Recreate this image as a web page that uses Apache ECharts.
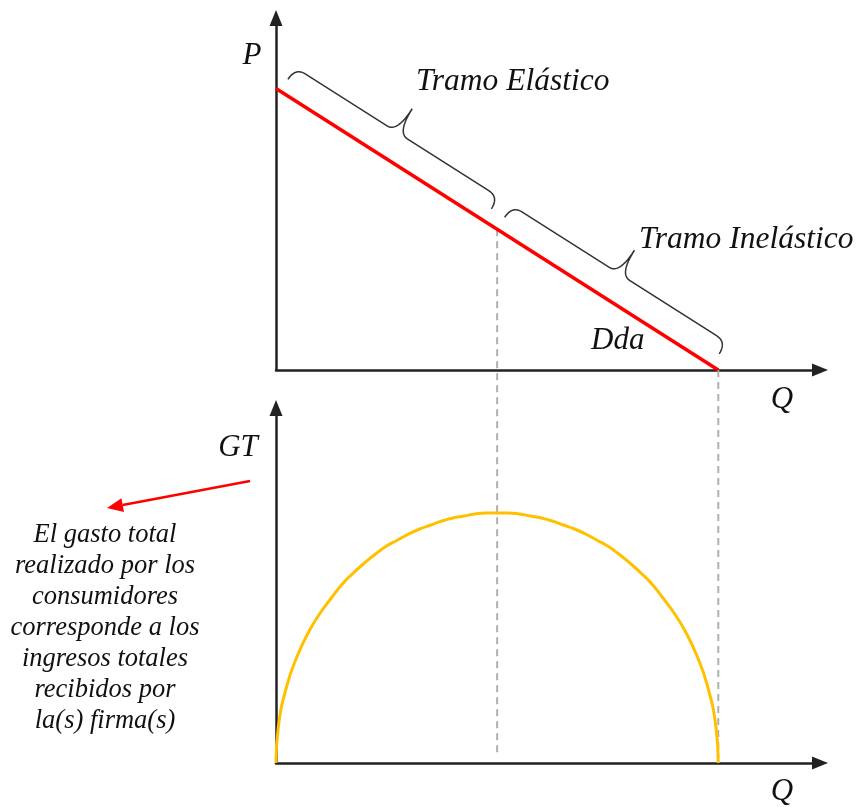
<!DOCTYPE html>
<html>
<head>
<meta charset="utf-8">
<script src="https://cdn.jsdelivr.net/npm/echarts@6/dist/echarts.min.js"></script>
<style>
  html, body { margin: 0; padding: 0; background: #fff; }
  #main { width: 861px; height: 807px; }
</style>
</head>
<body>
<div id="main"></div>
<script>
// demanda lineal (Q, P)
var demandaQ = [0, 10];
var demandaP = [10, 0];
// gasto total (Q, GT)
var gtQ   = [0, 0.05, 0.25, 0.5, 0.75, 1, 1.25, 1.5, 1.75, 2, 2.25, 2.5, 2.75, 3, 3.25, 3.5, 3.75, 4, 4.25, 4.5, 4.75, 5,
             5.25, 5.5, 5.75, 6, 6.25, 6.5, 6.75, 7, 7.25, 7.5, 7.75, 8, 8.25, 8.5, 8.75, 9, 9.25, 9.5, 9.75, 9.95, 10];
var gtVal = [0, 3.5, 7.8, 10.9, 13.2, 15, 16.5, 17.9, 19, 20, 20.9, 21.7, 22.3, 22.9, 23.4, 23.8, 24.2, 24.5, 24.7, 24.9, 25, 25,
             25, 24.9, 24.7, 24.5, 24.2, 23.8, 23.4, 22.9, 22.3, 21.7, 20.9, 20, 19, 17.9, 16.5, 15, 13.2, 10.9, 7.8, 3.5, 0];
// cortes verticales: elasticidad unitaria y fin de la demanda
var corteQ = [5, 10];
// tramos de la demanda (rango de Q cubierto por cada llave)
var tramoElastico = [0.1, 4.7];
var tramoInelastico = [5.0, 9.85];
var parrafo = ['El gasto total', 'realizado por los', 'consumidores', 'corresponde a los',
               'ingresos totales', 'recibidos por', 'la(s) firma(s)'];

var chart = echarts.init(document.getElementById('main'));
var fuente = '"Liberation Serif", "Times New Roman", serif';

function eje(grid, max) {
  return {
    gridIndex: grid, type: 'value', min: 0, max: max,
    axisLine: { show: true, onZero: false, symbol: ['none', 'triangle'], symbolSize: [13, 16],
                lineStyle: { color: '#222', width: 2.5 } },
    axisTick: { show: false }, axisLabel: { show: false }, splitLine: { show: false }
  };
}

chart.setOption({
  animation: false,
  grid: [
    { left: 276, right: 41, top: 18, bottom: 437 },
    { left: 276, right: 41, top: 408, bottom: 44 }
  ],
  xAxis: [eje(0, 12.3), eje(1, 12.3)],
  yAxis: [eje(0, 12.5), eje(1, 35.5)],
  series: [{
    type: 'line', xAxisIndex: 0, yAxisIndex: 0, symbol: 'none',
    lineStyle: { color: '#ff0000', width: 3.5 },
    data: demandaQ.map(function (q, i) { return [q, demandaP[i]]; })
  }, {
    type: 'line', xAxisIndex: 1, yAxisIndex: 1, symbol: 'none', smooth: true,
    lineStyle: { color: '#ffc000', width: 3 },
    data: gtQ.map(function (q, i) { return [q, gtVal[i]]; })
  }]
});

function px(grid, pt) { return chart.convertToPixel({ gridIndex: grid }, pt); }
function precio(q) { return demandaP[0] + (demandaP[1] - demandaP[0]) * (q - demandaQ[0]) / (demandaQ[1] - demandaQ[0]); }

// llave paralela a la demanda entre q0 y q1, como lista de puntos
function llave(q0, q1, sep, h, punta, a) {
  var p0 = px(0, [q0, precio(q0)]), p1 = px(0, [q1, precio(q1)]);
  var dx = p1[0] - p0[0], dy = p1[1] - p0[1], L = Math.sqrt(dx * dx + dy * dy);
  var d = [dx / L, dy / L], n = [d[1], -d[0]];
  function t(p) {
    var v = p[1] + sep;
    return [p0[0] + p[0] * d[0] + v * n[0], p0[1] + p[0] * d[1] + v * n[1]];
  }
  var m = L / 2, pts = [];
  function quad(s, c, e) {
    for (var i = 0; i <= 12; i++) {
      var k = i / 12, r = 1 - k;
      pts.push(t([r * r * s[0] + 2 * r * k * c[0] + k * k * e[0], r * r * s[1] + 2 * r * k * c[1] + k * k * e[1]]));
    }
  }
  quad([0, 0], [0, h], [a, h]);
  quad([m - a, h], [m, h], [m, h + punta]);
  quad([m, h + punta], [m, h], [m + a, h]);
  quad([L - a, h], [L, h], [L, 0]);
  return pts;
}

var graficos = [];
// lineas punteadas que unen ambos paneles
corteQ.forEach(function (q) {
  var a = px(0, [q, precio(q)]), b = px(1, [q, 0]);
  graficos.push({
    type: 'line', z: 1,
    shape: { x1: a[0], y1: a[1], x2: b[0], y2: b[1] - 6 },
    style: { stroke: '#b0b0b0', lineWidth: 2, lineDash: [7, 5] }
  });
});
[tramoElastico, tramoInelastico].forEach(function (r) {
  graficos.push({
    type: 'polyline', z: 10,
    shape: { points: llave(r[0], r[1], 14, 14, 28, 12) },
    style: { fill: null, stroke: '#333', lineWidth: 1.5 }
  });
});

// flecha roja hacia el texto
var ini = [250, 481], fin = [107, 508];
var ux = fin[0] - ini[0], uy = fin[1] - ini[1], ul = Math.sqrt(ux * ux + uy * uy);
ux /= ul; uy /= ul;
var base = [fin[0] - 16 * ux, fin[1] - 16 * uy];
graficos.push({
  type: 'line', shape: { x1: ini[0], y1: ini[1], x2: base[0], y2: base[1] },
  style: { stroke: '#ff0000', lineWidth: 2.5 }
});
graficos.push({
  type: 'polygon',
  shape: { points: [fin, [base[0] - 7 * uy, base[1] + 7 * ux], [base[0] + 7 * uy, base[1] - 7 * ux]] },
  style: { fill: '#ff0000' }
});

function texto(s, x, y, size, align, extra) {
  var st = { text: s, font: 'italic ' + size + 'px ' + fuente, fill: '#111',
             textAlign: align || 'left', textVerticalAlign: 'middle' };
  if (extra) for (var k in extra) st[k] = extra[k];
  graficos.push({ type: 'text', x: x, y: y, z: 20, style: st });
}
texto('P', 252, 56, 31, 'center');
texto('Tramo Elástico', 416, 82, 31.5);
texto('Tramo Inelástico', 639, 240, 31.5);
texto('Dda', 591, 341, 31);
texto('Q', 782, 400, 31, 'center');
texto('GT', 238, 448, 31, 'center');
texto('Q', 782, 792, 31, 'center');
texto(parrafo.join('\n'), 105, 628, 26.5, 'center', { lineHeight: 31 });

chart.setOption({ graphic: { elements: graficos } });
</script>
</body>
</html>
